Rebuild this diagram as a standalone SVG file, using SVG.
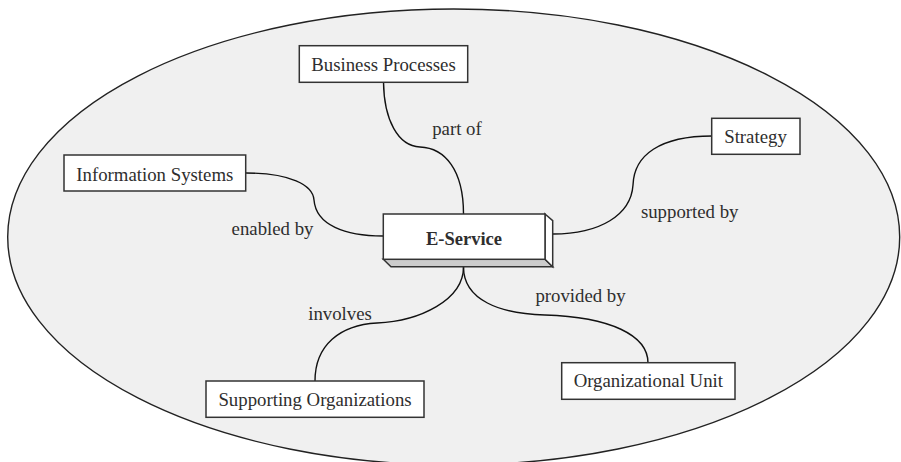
<svg xmlns="http://www.w3.org/2000/svg" width="901" height="462" viewBox="0 0 901 462">
<style>
.box{fill:#ffffff;stroke:#333333;stroke-width:1.5}
.lbl{font-size:18.8px;fill:#2e2e2e;text-anchor:middle}
.edge{fill:none;stroke:#111111;stroke-width:1.4}
</style>
<rect x="0" y="0" width="901" height="462" fill="#ffffff"/>
<ellipse id="boundary" cx="453.7" cy="237" rx="446" ry="228" fill="#f0f0f0" stroke="#222222" stroke-width="1.4"/>
<g id="connectors">
<path class="edge" d="M383.5,82 C384,120 398,146 420,147 C445,148 463.5,170 463.5,214"/>
<path class="edge" d="M246,173 C290,173 313,185 314,200 C316,225 345,236 383,236"/>
<path class="edge" d="M712,136 C660,136 634,155 633,185 C631,215 600,234 553,234"/>
<path class="edge" d="M463.5,259 L463.5,267 C463.5,300 420,321 377,323 C340,325 315,345 315,381"/>
<path class="edge" d="M463.5,267 C463.5,300 500,314 545,315 C610,317 648,335 648,363"/>
</g>
<g font-family="Liberation Serif, Times New Roman, DejaVu Serif, serif">
<g id="edge-labels">
<text class="lbl" x="457" y="135">part of</text>
<text class="lbl" x="272.5" y="235">enabled by</text>
<text class="lbl" x="689.7" y="218">supported by</text>
<text class="lbl" x="340" y="320">involves</text>
<text class="lbl" x="580.5" y="302">provided by</text>
</g>
<g id="e-service">
<polygon points="383.3,259.3 391,266.7 552.7,266.7 545,259.3" fill="#cccccc" stroke="#333333" stroke-width="1.5"/>
<polygon points="545,214 552.7,220.7 552.7,266.7 545,259.3" fill="#ffffff" stroke="#333333" stroke-width="1.5"/>
<rect x="383.3" y="214" width="161.7" height="45.3" class="box"/>
<text class="lbl" x="464" y="245" font-weight="bold" style="font-size:18.5px">E-Service</text>
</g>
<g id="business-processes">
<rect x="299.3" y="45.7" width="168.4" height="36.6" class="box"/>
<text class="lbl" x="383.5" y="70.5">Business Processes</text>
</g>
<g id="information-systems">
<rect x="64" y="155" width="181.7" height="36" class="box"/>
<text class="lbl" x="154.8" y="180.5">Information Systems</text>
</g>
<g id="strategy">
<rect x="711.7" y="118.3" width="88.3" height="36" class="box"/>
<text class="lbl" x="755.5" y="143.3">Strategy</text>
</g>
<g id="supporting-organizations">
<rect x="206" y="381" width="218" height="36.3" class="box"/>
<text class="lbl" x="315" y="405.7">Supporting Organizations</text>
</g>
<g id="organizational-unit">
<rect x="561.7" y="362.7" width="173.3" height="36.6" class="box"/>
<text class="lbl" x="648.3" y="387.3">Organizational Unit</text>
</g>
</g>
</svg>
